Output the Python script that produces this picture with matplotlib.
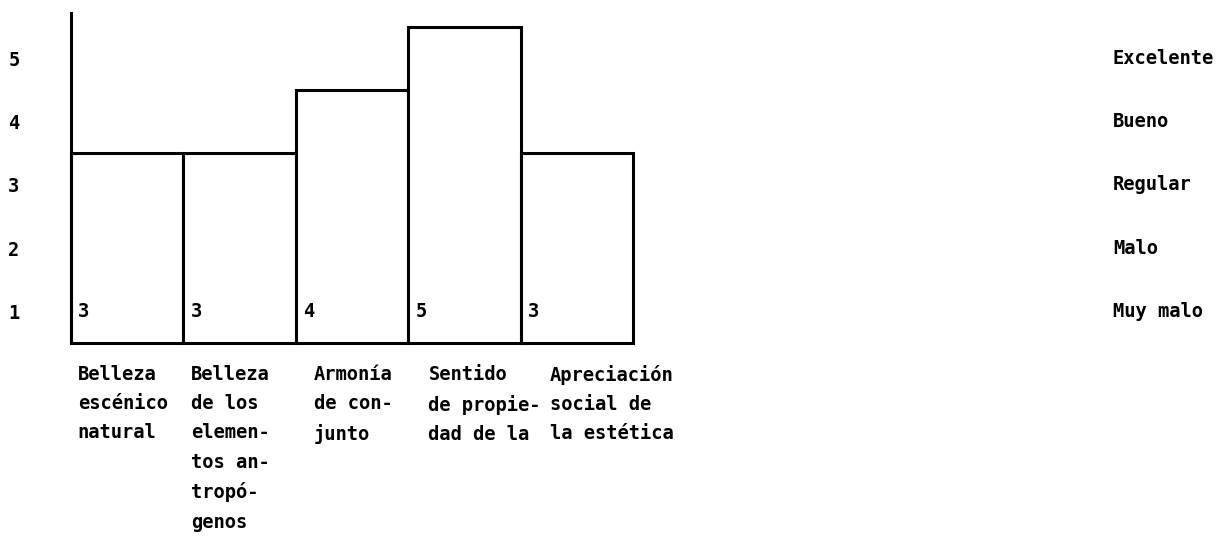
import matplotlib
matplotlib.use("Agg")
import matplotlib.pyplot as plt
import matplotlib.transforms as mtransforms

# data
categories = [
    "Belleza\nescénico\nnatural",
    "Belleza\nde los\nelemen-\ntos an-\ntropó-\ngenos",
    "Armonía\nde con-\njunto",
    "Sentido\nde propie-\ndad de la",
    "Apreciación\nsocial de\nla estética",
]
values = [3, 3, 4, 5, 3]
scale_ticks = [1, 2, 3, 4, 5]
scale_names = ["Muy malo", "Malo", "Regular", "Bueno", "Excelente"]

# typewriter layout: label start inside each bar, in bar widths
label_shift = [0.06, 0.07, 0.16, 0.18, 0.26]

FONT = dict(family="DejaVu Sans Mono", weight="bold", fontsize=13.5)
LW = 2.2

fig = plt.figure(figsize=(12.18, 5.46), dpi=100)
ax = fig.add_axes([71 / 1218, 1 - 343 / 546, 1 - 71 / 1218, 330 / 546])

base = 0.5
x = list(range(len(values)))
ax.bar(x, values, bottom=base, width=1.0, align="edge",
       facecolor="white", edgecolor="black", linewidth=LW, clip_on=False)

ax.set_xlim(0, (1218 - 71) / 112.4)
ax.set_ylim(base, base + 330 / 63.2)

# left scale
ax.set_yticks(scale_ticks)
ax.set_yticklabels([str(t) for t in scale_ticks], **FONT)
ax.tick_params(axis="y", length=0, pad=37)
ax.set_xticks([])
for side in ["top", "right", "bottom"]:
    ax.spines[side].set_visible(False)
ax.spines["left"].set_linewidth(LW)

# value labels inside bars
for xi, v in zip(x, values):
    ax.text(xi + 0.065, 1, str(v), ha="left", va="center", **FONT)

# category labels under the bars
trans = mtransforms.blended_transform_factory(ax.transData, fig.transFigure)
for xi, lab, sh in zip(x, categories, label_shift):
    ax.text(xi + sh, 1 - 365 / 546, lab, ha="left", va="top",
            transform=trans, linespacing=1.68, **FONT)

# right-hand scale names
for t, name in zip(scale_ticks, scale_names):
    ax.text((1113 - 71) / 112.4, t, name, ha="left", va="center", **FONT)

fig.savefig("out.png", dpi=100, facecolor="white")
